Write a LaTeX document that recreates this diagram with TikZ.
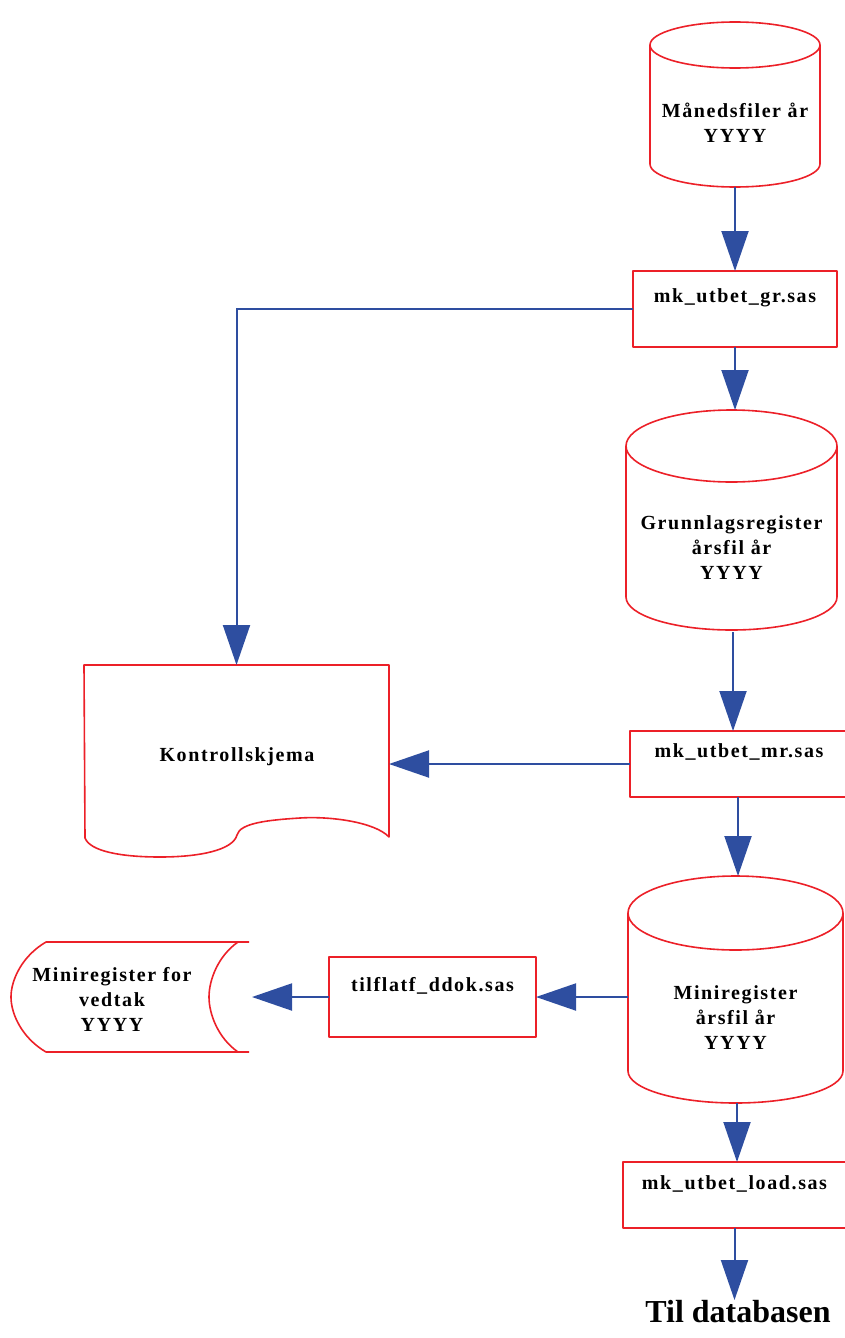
\documentclass[tikz,border=0pt]{standalone}
\usepackage{fontspec}
\setmainfont{Liberation Serif}
\newfontfamily\lblfont{Liberation Serif}[LetterSpace=8.0]
\usetikzlibrary{arrows.meta,calc}
\definecolor{outline}{RGB}{236,32,40}
\definecolor{flowblue}{RGB}{46,78,160}
\tikzset{
  outl/.style={draw=outline, line width=1.6pt, line join=round},
  flow/.style={draw=flowblue, line width=2pt, -{Triangle[length=40pt,width=27pt]}},
  area/.style={inner sep=0pt, outer sep=0pt, minimum width=#1},
  lbl/.style={font=\lblfont\bfseries\fontsize{20}{25}\selectfont, align=center, inner sep=0pt},
  bigtxt/.style={font=\bfseries\fontsize{32}{38}\selectfont, inner sep=0pt}
}
\begin{document}
\begin{tikzpicture}[x=1pt,y=-1pt]
\useasboundingbox (0,0) rectangle (845,1338);

% ---------- shape areas (used as anchors for the connectors) ----------
\node[area=170pt, minimum height=165pt] (cylA) at (735,104.5) {};
\node[area=204pt, minimum height=76pt]  (boxA) at (735,309) {};
\node[area=211pt, minimum height=222pt] (cylB) at (731.5,521) {};
\node[area=218pt, minimum height=66pt]  (boxB) at (739,764) {};
\node[area=305pt, minimum height=192pt] (ctrl) at (236.5,761) {};
\node[area=215pt, minimum height=227pt] (cylC) at (735.5,989.5) {};
\node[area=207pt, minimum height=80pt]  (boxC) at (432.5,997) {};
\node[area=238pt, minimum height=110pt] (stor) at (130,997) {};
\node[area=223pt, minimum height=66pt]  (boxD) at (734.5,1195) {};

% connector end points that sit slightly off the shape centres
\coordinate (cylBout) at ($(cylB.south)+(1.5,0)$);
\coordinate (boxBout) at ($(boxB.south)+(-1,0)$);
\coordinate (cylCout) at ($(cylC.south)+(1.5,0)$);
\coordinate (storin)  at ($(stor.east)+(3,0)$);

% ---------- outlines ----------
% cylinder: Månedsfiler
\draw[outl] (735,45) ellipse [x radius=85pt, y radius=23pt];
\draw[outl] (650,45) -- (650,164) .. controls (650,176.7) and (688.1,187) .. (735,187)
  .. controls (781.9,187) and (820,176.7) .. (820,164) -- (820,45);
% box: mk_utbet_gr
\draw[outl] (boxA.north west) rectangle (boxA.south east);
% cylinder: Grunnlagsregister
\draw[outl] (731.5,446) ellipse [x radius=105.5pt, y radius=36pt];
\draw[outl] (626,446) -- (626,597) .. controls (626,615.2) and (673.2,630) .. (731.5,630)
  .. controls (789.8,630) and (837,615.2) .. (837,597) -- (837,446);
% box: mk_utbet_mr
\draw[outl] (boxB.north west) rectangle (boxB.south east);
% document: Kontrollskjema
\draw[outl] (85,838) -- (84,665) -- (389,665) -- (389,837)
  .. controls (375,822) and (330,816) .. (300,818)
  .. controls (268,820) and (240,823) .. (237,835)
  .. controls (233,850) and (200,857) .. (160,857)
  .. controls (120,857) and (90,851) .. (85,838);
% cylinder: Miniregister
\draw[outl] (735.5,913) ellipse [x radius=107.5pt, y radius=37pt];
\draw[outl] (628,913) -- (628,1071) .. controls (628,1088.7) and (676.1,1103) .. (735.5,1103)
  .. controls (794.9,1103) and (843,1088.7) .. (843,1071) -- (843,913);
% box: tilflatf_ddok
\draw[outl] (boxC.north west) rectangle (boxC.south east);
% stored data: Miniregister for vedtak
\draw[outl] (249,942) -- (46,942) .. controls (22,956) and (11,980) .. (11,997)
  .. controls (11,1014) and (22,1038) .. (46,1052) -- (249,1052);
\draw[outl] (238,942) .. controls (218,956) and (209,980) .. (209,997)
  .. controls (209,1014) and (218,1038) .. (238,1052);
% box: mk_utbet_load
\draw[outl] (boxD.north west) rectangle (boxD.south east);

% ---------- labels ----------
\node[lbl] (tA) at (735,122.5) {Månedsfiler år\\YYYY};
\node[lbl] (tbA) at (735,298) {mk\_utbet\_gr.sas};
\node[lbl] (tB) at (731.5,548) {Grunnlagsregister\\årsfil år\\YYYY};
\node[lbl] (tbB) at (739,752) {mk\_utbet\_mr.sas};
\node[lbl] (tK) at (237,757) {Kontrollskjema};
\node[lbl] (tC) at (735.5,1018) {Miniregister\\årsfil år\\YYYY};
\node[lbl] (tbC) at (432.5,986) {tilflatf\_ddok.sas};
\node[lbl] (tS) at (112,999) {Miniregister for\\vedtak\\YYYY};
\node[lbl] (tbD) at (734.5,1184) {mk\_utbet\_load.sas};
\node[bigtxt, anchor=north] (db) at (738,1300) {Til databasen};

% ---------- connectors ----------
\draw[flow] (cylA.south) -- (cylA.south |- boxA.north);
\draw[flow] (boxA.south) -- (boxA.south |- cylB.north);
\draw[flow] (boxA.west) -| (ctrl.north);
\draw[flow] (cylBout) -- (cylBout |- boxB.north);
\draw[flow] (boxB.west) -- (boxB.west -| ctrl.east);
\draw[flow] (boxBout) -- (boxBout |- cylC.north);
\draw[flow] (boxC.east -| cylC.west) -- (boxC.east);
\draw[flow] (boxC.west) -- (storin);
\draw[flow] (cylCout) -- (cylCout |- boxD.north);
\draw[flow] (boxD.south) -- (boxD.south |- db.north);
\end{tikzpicture}
\end{document}
